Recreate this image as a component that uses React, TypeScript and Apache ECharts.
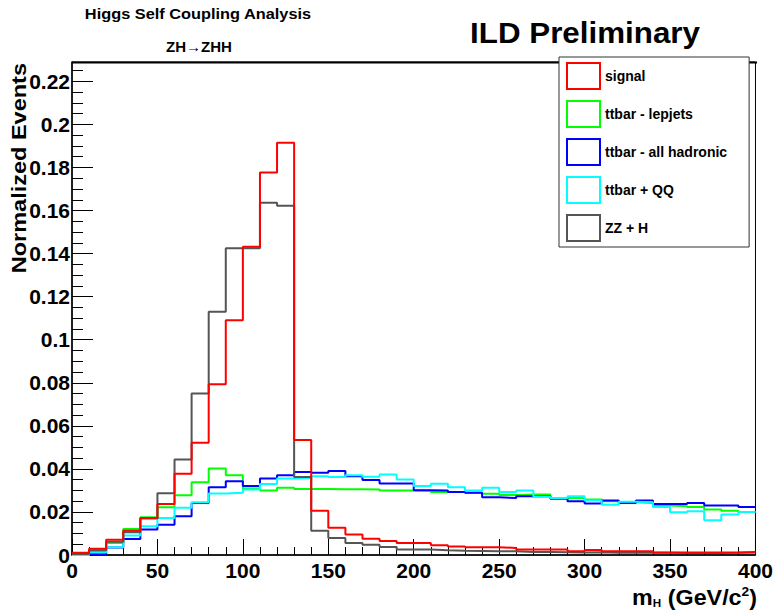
import React, { useEffect, useRef } from "react";
import * as echarts from "echarts";

// Histogram bins: 10 GeV wide, 0–400 GeV
const binLowEdges = [
  0, 10, 20, 30, 40, 50, 60, 70, 80, 90,
  100, 110, 120, 130, 140, 150, 160, 170, 180, 190,
  200, 210, 220, 230, 240, 250, 260, 270, 280, 290,
  300, 310, 320, 330, 340, 350, 360, 370, 380, 390,
];
const X_MAX = 400;

const signal = [
  0.001, 0.0029, 0.0071, 0.0113, 0.0171, 0.0237, 0.0377, 0.0521, 0.0793, 0.1091,
  0.1432, 0.1777, 0.1915, 0.0534, 0.0206, 0.0127, 0.0095, 0.0076, 0.0065, 0.0056,
  0.0056, 0.0045, 0.004, 0.0036, 0.0036, 0.0033, 0.0025, 0.0025, 0.0025, 0.0017,
  0.0023, 0.0017, 0.0017, 0.0017, 0.0012, 0.0012, 0.0012, 0.0012, 0.0012, 0.0014,
];
const ttbarLepjets = [
  0, 0.0017, 0.0056, 0.0121, 0.0175, 0.0222, 0.0278, 0.0338, 0.0402, 0.0371,
  0.0309, 0.03, 0.0312, 0.0306, 0.0306, 0.0305, 0.0305, 0.0304, 0.03, 0.03,
  0.0299, 0.0293, 0.0293, 0.0289, 0.0284, 0.0279, 0.0281, 0.0281, 0.0265, 0.0265,
  0.0258, 0.025, 0.0245, 0.0242, 0.023, 0.0227, 0.0223, 0.0211, 0.0206, 0.02,
];
const ttbarHadronic = [
  0, 0.0005, 0.0035, 0.0074, 0.0118, 0.0141, 0.018, 0.0242, 0.0315, 0.0343,
  0.032, 0.0355, 0.0371, 0.0386, 0.0382, 0.039, 0.0366, 0.0348, 0.0332, 0.0332,
  0.0301, 0.03, 0.0293, 0.0289, 0.0268, 0.0265, 0.0273, 0.0273, 0.0261, 0.025,
  0.0239, 0.0253, 0.0242, 0.0253, 0.0237, 0.0237, 0.0242, 0.023, 0.023, 0.0223,
];
const ttbarQQ = [
  0, 0.0012, 0.0036, 0.009, 0.0133, 0.0172, 0.0219, 0.0245, 0.0286, 0.0289,
  0.0304, 0.033, 0.0355, 0.0358, 0.0366, 0.0362, 0.0371, 0.0363, 0.0374, 0.0351,
  0.032, 0.0331, 0.0315, 0.03, 0.0312, 0.0293, 0.03, 0.027, 0.0265, 0.0273,
  0.0253, 0.0233, 0.0247, 0.0245, 0.0223, 0.0199, 0.0203, 0.0161, 0.0188, 0.02,
];
const zzH = [
  0.0005, 0.0022, 0.0061, 0.0106, 0.0171, 0.0287, 0.0444, 0.075, 0.113, 0.1425,
  0.1425, 0.1636, 0.1622, 0.0362, 0.0113, 0.0079, 0.0056, 0.0048, 0.0037, 0.0025,
  0.0025, 0.0022, 0.002, 0.0019, 0.0017, 0.0017, 0.0014, 0.0014, 0.0013, 0.0012,
  0.0013, 0.0011, 0.0011, 0.001, 0.001, 0.0009, 0.0009, 0.0009, 0.001, 0.0012,
];

const seriesNames = ["signal", "ttbar - lepjets", "ttbar - all hadronic", "ttbar + QQ", "ZZ + H"];
const seriesColors = ["#ff0000", "#00ff00", "#0000ff", "#00ffff", "#555555"];
const seriesValues = [signal, ttbarLepjets, ttbarHadronic, ttbarQQ, zzH];
const drawOrder = [1, 2, 3, 4, 0];

const FONT = "'Liberation Sans', Arial, Helvetica, sans-serif";

function histData(vals: number[]) {
  const d: number[][] = binLowEdges.map((e, i) => [e, vals[i]]);
  d.push([X_MAX, vals[vals.length - 1]]);
  return d;
}

export default function App() {
  const ref = useRef<HTMLDivElement>(null);
  useEffect(() => {
    if (!ref.current) return;
    const chart = echarts.init(ref.current, null, { renderer: "svg" });
    const option: any = {
      animation: false,
      backgroundColor: "#ffffff",
      grid: {
        left: 72,
        top: 62,
        right: 19,
        bottom: 56,
        show: true,
        borderColor: "#000",
        borderWidth: 1,
        backgroundColor: "transparent",
      },
      xAxis: {
        type: "value",
        min: 0,
        max: X_MAX,
        interval: 50,
        axisLine: { show: true, lineStyle: { color: "#000", width: 1.5 } },
        axisTick: { show: true, inside: true, length: 16, lineStyle: { color: "#000", width: 1 } },
        minorTick: { show: true, splitNumber: 5, length: 8, lineStyle: { color: "#000", width: 1 } },
        splitLine: { show: false },
        minorSplitLine: { show: false },
        axisLabel: {
          color: "#000",
          fontFamily: FONT,
          fontWeight: "bold",
          fontSize: 21,
          margin: 5,
        },
      },
      yAxis: {
        type: "value",
        min: 0,
        max: 0.229,
        interval: 0.02,
        axisLine: { show: true, lineStyle: { color: "#000", width: 1.5 } },
        axisTick: { show: true, inside: true, length: 21, lineStyle: { color: "#000", width: 1 } },
        minorTick: { show: true, splitNumber: 4, length: 11, lineStyle: { color: "#000", width: 1 } },
        splitLine: { show: false },
        minorSplitLine: { show: false },
        axisLabel: {
          color: "#000",
          fontFamily: FONT,
          fontWeight: "bold",
          fontSize: 21,
          margin: 2,
          formatter: (v: number) => {
            const k = v / 0.02;
            if (Math.abs(k - Math.round(k)) > 1e-6) return "";
            return String(parseFloat(v.toFixed(3)));
          },
        },
      },
      legend: {
        orient: "vertical",
        left: 559,
        top: 57,
        padding: [5, 22, 5, 7],
        itemWidth: 33,
        itemHeight: 26,
        itemGap: 10,
        backgroundColor: "#ffffff",
        borderColor: "#333",
        borderWidth: 1,
        selectedMode: false,
        textStyle: { color: "#000", fontFamily: FONT, fontWeight: "bold", fontSize: 14 },
        data: seriesNames.map((n, i) => ({
          name: n,
          icon: "rect",
          itemStyle: { color: "#ffffff", borderColor: seriesColors[i], borderWidth: 2 },
        })),
      },
      series: drawOrder.map((i) => ({
        name: seriesNames[i],
        type: "line",
        step: "end",
        symbol: "none",
        showSymbol: false,
        color: seriesColors[i],
        lineStyle: { color: seriesColors[i], width: 2 },
        data: histData(seriesValues[i]),
      })),
      graphic: [
        {
          type: "line",
          shape: { x1: 72, y1: 62.5, x2: 757, y2: 62.5 },
          style: { stroke: "#000", lineWidth: 2 },
          z: 1,
        },
        {
          type: "text",
          x: 198,
          y: 14,
          scaleX: 1.09,
          style: {
            text: "Higgs Self Coupling Analysis",
            font: `bold 15px ${FONT}`,
            fill: "#000",
            align: "center",
            verticalAlign: "middle",
          },
        },
        {
          type: "text",
          x: 199,
          y: 46,
          style: {
            text: "ZH\u2192ZHH",
            font: `bold 15px ${FONT}`,
            fill: "#000",
            align: "center",
            verticalAlign: "middle",
          },
        },
        {
          type: "text",
          x: 585,
          y: 33,
          scaleX: 1.045,
          style: {
            text: "ILD Preliminary",
            font: `bold 30px ${FONT}`,
            fill: "#000",
            align: "center",
            verticalAlign: "middle",
          },
        },
        {
          type: "text",
          x: 19,
          y: 63,
          rotation: Math.PI / 2,
          scaleX: 1.12,
          style: {
            text: "Normalized Events",
            font: `bold 21px ${FONT}`,
            fill: "#000",
            align: "right",
            verticalAlign: "middle",
          },
        },
        {
          type: "text",
          x: 757,
          y: 597,
          scaleX: 1.06,
          style: {
            text: "{a|m}{s|H}{a| (GeV/c}{p|2}{a|)}",
            fill: "#000",
            align: "right",
            verticalAlign: "middle",
            rich: {
              a: { font: `bold 22px ${FONT}`, fill: "#000", lineHeight: 24, verticalAlign: "middle" },
              s: { font: `bold 11px ${FONT}`, fill: "#000", verticalAlign: "bottom", lineHeight: 24 },
              p: { font: `bold 13px ${FONT}`, fill: "#000", verticalAlign: "top", lineHeight: 24 },
            },
          },
        },
      ],
    };
    chart.setOption(option);
    return () => chart.dispose();
  }, []);
  return (
    <div
      ref={ref}
      style={{ position: "fixed", left: 0, top: 0, width: 776, height: 611, background: "#fff" }}
    />
  );
}
